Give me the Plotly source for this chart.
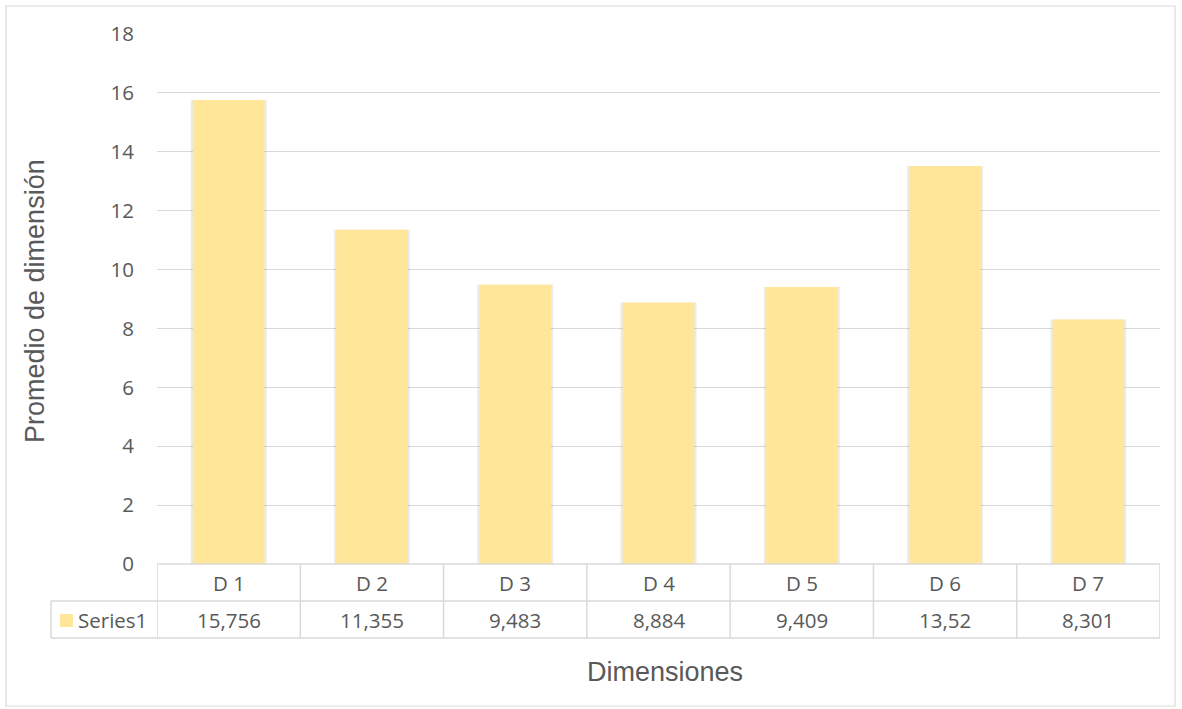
import plotly.graph_objects as go

categories = ["D 1", "D 2", "D 3", "D 4", "D 5", "D 6", "D 7"]
values = [15.756, 11.355, 9.483, 8.884, 9.409, 13.52, 8.301]
series_name = "Series1"
y_ticks = [0, 2, 4, 6, 8, 10, 12, 14, 16, 18]

W, H = 1182, 709
L, R, T, B = 157, 22, 34, 145
PW = W - L - R
PH = H - T - B
BAR = "#FFE699"
GRID = "#D9D9D9"
TXT = "#595959"
TICKFONT = "Open Sans, Lato, sans-serif"
TITLEFONT = "Liberation Sans, Arial, sans-serif"
FS = 20.5

def px_x(p):
    return (p - L) / PW

def px_y(p):
    return (H - B - p) / PH

xs = list(range(len(categories)))

fig = go.Figure()
# soft shadow behind bars
fig.add_trace(go.Bar(x=xs, y=values, width=0.53, marker=dict(color="rgba(0,0,0,0.08)", line=dict(width=0)),
                     hoverinfo="skip", showlegend=False))
fig.add_trace(go.Bar(x=xs, y=values, width=0.5, name=series_name,
                     marker=dict(color=BAR, line=dict(width=0)), showlegend=False))

shapes = []
row1_bot = px_y(601)
row2_bot = px_y(638)
left_leg = px_x(51)
shapes.append(dict(type="line", xref="paper", yref="paper", x0=0, x1=1, y0=0, y1=0, line=dict(color=GRID, width=1.5)))
shapes.append(dict(type="line", xref="paper", yref="paper", x0=left_leg, x1=1, y0=row1_bot, y1=row1_bot, line=dict(color=GRID, width=1.5)))
shapes.append(dict(type="line", xref="paper", yref="paper", x0=left_leg, x1=1, y0=row2_bot, y1=row2_bot, line=dict(color=GRID, width=1.5)))
for i in range(len(categories) + 1):
    shapes.append(dict(type="line", xref="x", yref="paper", x0=i - 0.5, x1=i - 0.5, y0=0, y1=row2_bot,
                       line=dict(color=GRID, width=1.5)))
shapes.append(dict(type="line", xref="paper", yref="paper", x0=left_leg, x1=left_leg, y0=row1_bot, y1=row2_bot,
                   line=dict(color=GRID, width=1.5)))
shapes.append(dict(type="rect", xref="paper", yref="paper", x0=px_x(60), x1=px_x(73), y0=px_y(627), y1=px_y(614),
                   fillcolor=BAR, line=dict(width=0)))
shapes.append(dict(type="rect", xref="paper", yref="paper", x0=px_x(6), x1=px_x(1175), y0=px_y(706), y1=px_y(6),
                   line=dict(color=GRID, width=1.2), fillcolor="rgba(0,0,0,0)", layer="below"))

annotations = []
mid1 = (px_y(564) + row1_bot) / 2
mid2 = (row1_bot + row2_bot) / 2
for i, (c, v) in enumerate(zip(categories, values)):
    annotations.append(dict(x=i, y=mid1, xref="x", yref="paper", text=c, showarrow=False,
                            font=dict(family=TICKFONT, size=FS, color=TXT), yanchor="middle"))
    annotations.append(dict(x=i, y=mid2, xref="x", yref="paper", text=str(v).replace(".", ","), showarrow=False,
                            font=dict(family=TICKFONT, size=FS, color=TXT), yanchor="middle"))
annotations.append(dict(x=px_x(76), y=mid2, xref="paper", yref="paper", text=series_name, showarrow=False,
                        xanchor="left", yanchor="middle", font=dict(family=TICKFONT, size=FS, color=TXT)))
annotations.append(dict(x=px_x(665), y=px_y(672), xref="paper", yref="paper", text="Dimensiones", showarrow=False,
                        xanchor="center", yanchor="middle", font=dict(family=TITLEFONT, size=27, color=TXT)))
annotations.append(dict(x=px_x(35), y=px_y(301), xref="paper", yref="paper", text="Promedio de dimensión",
                        showarrow=False, textangle=-90, xanchor="center", yanchor="middle",
                        font=dict(family=TITLEFONT, size=27, color=TXT)))

fig.update_layout(
    width=W, height=H,
    margin=dict(l=L, r=R, t=T, b=B),
    paper_bgcolor="white", plot_bgcolor="white",
    barmode="overlay",
    shapes=shapes, annotations=annotations,
    xaxis=dict(range=[-0.5, len(categories) - 0.5], showticklabels=False, showgrid=False, zeroline=False,
               showline=False, fixedrange=True),
    yaxis=dict(range=[0, 18], tickvals=y_ticks, showgrid=True, gridcolor=GRID, gridwidth=1.2, zeroline=False,
               showline=False, ticks="", ticklabelstandoff=22,
               tickfont=dict(family=TICKFONT, size=FS, color=TXT)),
)

fig.write_html("out.html", config={"displayModeBar": False},
               post_script="document.body.style.margin='0px';document.body.style.overflow='hidden';")
